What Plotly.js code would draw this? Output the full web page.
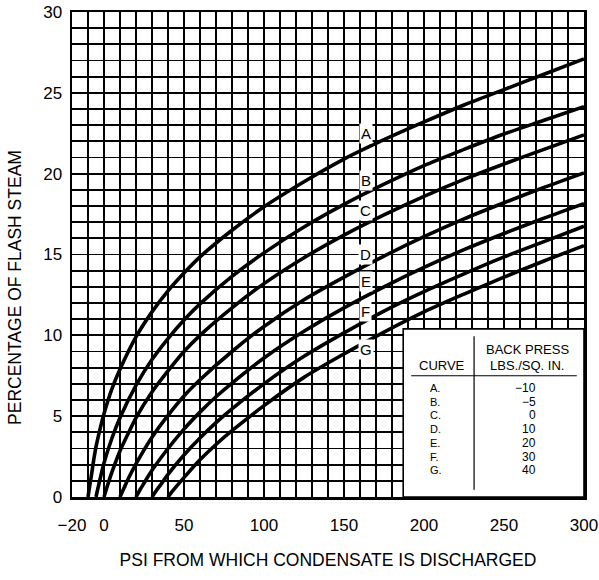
<!DOCTYPE html>
<html><head><meta charset="utf-8">
<script src="https://cdn.plot.ly/plotly-3.0.1.min.js"></script>
<style>html,body{margin:0;padding:0;background:#fff}</style>
</head><body><div id="chart" style="width:599px;height:580px"></div>
<script>
// Curve data: x = PSI from which condensate is discharged, y = % flash steam
const curveNames = ['A', 'B', 'C', 'D', 'E', 'F', 'G'];
const backPress = ['\u221210', '\u22125', '0', '10', '20', '30', '40'];

const xA = [-10, -9, -8, -6.5, -5, -2, 0, 5, 10, 20, 30, 40, 50, 60, 80, 100, 125, 150, 175, 200, 225, 250, 275, 300];
const yA = [0, 0.65, 1.25, 2.25, 3.1, 4.4, 5.15, 6.7, 7.9, 9.9, 11.45, 12.75, 13.85, 14.85, 16.5, 17.95, 19.5, 20.9, 22.1, 23.2, 24.25, 25.2, 26.15, 27.1];

const xB = [-5, -4, -2, 0, 5, 10, 20, 30, 40, 50, 60, 80, 100, 125, 150, 175, 200, 225, 250, 275, 300];
const yB = [0, 0.45, 1.3, 2.1, 3.65, 4.9, 6.9, 8.5, 9.8, 10.95, 11.95, 13.65, 15.1, 16.7, 18.1, 19.35, 20.5, 21.5, 22.45, 23.3, 24.15];

const xC = [0, 2, 5, 10, 15, 20, 30, 40, 50, 60, 80, 100, 125, 150, 175, 200, 225, 250, 275, 300];
const yC = [0, 0.65, 1.55, 2.85, 3.9, 4.9, 6.5, 7.8, 9.0, 10.0, 11.7, 13.2, 14.8, 16.2, 17.45, 18.6, 19.65, 20.6, 21.5, 22.4];

const xD = [10, 12.5, 15, 20, 30, 40, 50, 60, 80, 100, 125, 150, 175, 200, 225, 250, 275, 300];
const yD = [0, 0.55, 1.1, 2.05, 3.7, 5.05, 6.25, 7.25, 9.0, 10.55, 12.2, 13.6, 14.9, 16.1, 17.2, 18.2, 19.15, 20.05];

const xE = [20, 22.5, 25, 30, 40, 50, 60, 70, 80, 100, 125, 150, 175, 200, 225, 250, 275, 300];
const yE = [0, 0.45, 0.85, 1.65, 3.0, 4.2, 5.25, 6.2, 7.05, 8.6, 10.25, 11.7, 13.0, 14.2, 15.3, 16.3, 17.25, 18.15];

const xF = [30, 32.5, 35, 40, 50, 60, 70, 80, 100, 125, 150, 175, 200, 225, 250, 275, 300];
const yF = [0, 0.37, 0.7, 1.4, 2.6, 3.65, 4.6, 5.45, 7.0, 8.7, 10.15, 11.5, 12.7, 13.8, 14.85, 15.8, 16.75];

const xG = [40, 42.5, 45, 50, 60, 70, 80, 100, 125, 150, 175, 200, 225, 250, 275, 300];
const yG = [0, 0.33, 0.63, 1.2, 2.3, 3.25, 4.1, 5.65, 7.4, 8.85, 10.2, 11.45, 12.55, 13.6, 14.6, 15.55];

const xTickVals = [-20, 0, 50, 100, 150, 200, 250, 300];
const xTickText = ['\u221220', '0', '50', '100', '150', '200', '250', '300'];
const yTickVals = [0, 5, 10, 15, 20, 25, 30];

const xs = [xA, xB, xC, xD, xE, xF, xG];
const ys = [yA, yB, yC, yD, yE, yF, yG];

const FONT = 'Liberation Sans, Arial, Helvetica, sans-serif';

const traces = xs.map((x, i) => ({
  x: x, y: ys[i], type: 'scatter', mode: 'lines', name: curveNames[i],
  line: {color: '#000', width: 3.6, shape: 'spline', smoothing: 0.8},
  hoverinfo: 'skip', showlegend: false
}));

// curve label positions (x, y in data)
const labelX = 163.5;
const labelY = [22.5, 19.6, 17.7, 15.0, 13.3, 11.5, 9.15];

const annotations = [];
curveNames.forEach((n, i) => {
  annotations.push({x: labelX, y: labelY[i], xref: 'x', yref: 'y', text: n, showarrow: false,
    font: {family: FONT, size: 15, color: '#000'}, bgcolor: '#fff', borderpad: 1});
});
annotations.push({x: labelX, y: 12.4, xref: 'x', yref: 'y', text: '\u2022', showarrow: false,
  font: {family: FONT, size: 8, color: '#000'}});

// y-axis title
annotations.push({x: 0, xref: 'paper', xanchor: 'center', xshift: -57, y: 0.431, yref: 'paper', yanchor: 'middle',
  textangle: -90, text: 'PERCENTAGE OF FLASH STEAM', showarrow: false,
  font: {family: FONT, size: 17.5, color: '#000'}});

// table
annotations.push({x: 211.3, y: 8.16, xref: 'x', yref: 'y', text: 'CURVE', showarrow: false,
  font: {family: FONT, size: 13, color: '#000'}});
annotations.push({x: 264.5, y: 9.15, xref: 'x', yref: 'y', text: 'BACK PRESS', showarrow: false,
  font: {family: FONT, size: 13, color: '#000'}});
annotations.push({x: 264.5, y: 8.16, xref: 'x', yref: 'y', text: 'LBS./SQ. IN.', showarrow: false,
  font: {family: FONT, size: 13, color: '#000'}});
curveNames.forEach((n, i) => {
  const yy = 6.74 - i * 0.847;
  annotations.push({x: 202.5, y: yy, xref: 'x', yref: 'y', text: n + '.', showarrow: false, xanchor: 'left',
    font: {family: FONT, size: 11, color: '#000'}});
  annotations.push({x: 271.3, y: yy, xref: 'x', yref: 'y', text: backPress[i], showarrow: false, xanchor: 'right',
    font: {family: FONT, size: 12, color: '#000'}});
});

const shapes = [
  {type: 'rect', xref: 'x', yref: 'y', x0: 187, x1: 300, y0: 0, y1: 10.4,
   fillcolor: '#fff', line: {color: '#000', width: 1.6}, layer: 'above'},
  {type: 'line', xref: 'x', yref: 'y', x0: 231.3, x1: 231.3, y0: 0.45, y1: 9.95,
   line: {color: '#000', width: 1.2}, layer: 'above'},
  {type: 'line', xref: 'x', yref: 'y', x0: 192, x1: 295.5, y0: 7.5, y1: 7.5,
   line: {color: '#000', width: 1.2}, layer: 'above'}
];

const layout = {
  width: 599, height: 580,
  margin: {l: 72, r: 15, t: 12, b: 83},
  paper_bgcolor: '#fff', plot_bgcolor: '#fff',
  font: {family: FONT, color: '#000'},
  xaxis: {
    range: [-20, 300], tickvals: xTickVals, ticktext: xTickText,
    showgrid: true, gridcolor: '#000', gridwidth: 1.8,
    minor: {dtick: 10, tick0: 0, showgrid: true, gridcolor: '#000', gridwidth: 1.8},
    showline: true, mirror: true, linecolor: '#000', linewidth: 2.5,
    ticks: '', zeroline: false, ticklabelstandoff: 11,
    tickfont: {family: FONT, size: 17, color: '#000'},
    title: {text: 'PSI FROM WHICH CONDENSATE IS DISCHARGED', font: {family: FONT, size: 17.5, color: '#000'}, standoff: 20}
  },
  yaxis: {
    range: [0, 30], tickvals: yTickVals,
    showgrid: true, gridcolor: '#000', gridwidth: 1.8,
    minor: {dtick: 1, tick0: 0, showgrid: true, gridcolor: '#000', gridwidth: 1.8},
    showline: true, mirror: true, linecolor: '#000', linewidth: 2.5,
    ticks: '', zeroline: false, ticklabelstandoff: 4,
    tickfont: {family: FONT, size: 17, color: '#000'}
  },
  annotations: annotations,
  shapes: shapes,
  showlegend: false
};

Plotly.newPlot('chart', traces, layout, {displayModeBar: false, staticPlot: true});
</script></body></html>
